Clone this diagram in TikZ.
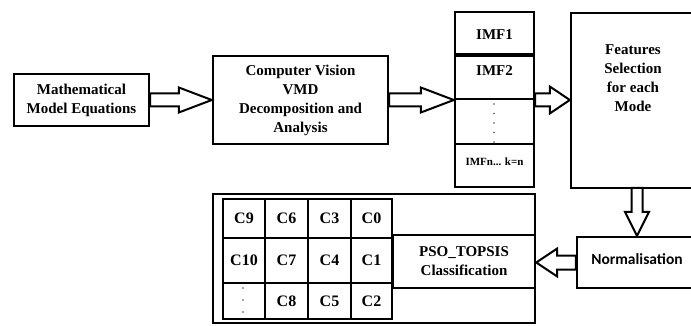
\documentclass[tikz,border=0pt]{standalone}
\usepackage{fontspec}
\setmainfont{Liberation Serif}
\newfontfamily\calfont{Carlito}
\usetikzlibrary{calc}
\tikzset{
  box/.style={draw, line width=2.4pt, inner sep=0pt, fill=white},
  lbl/.style={font=\fontsize{15}{19}\selectfont\bfseries, align=center, inner sep=0pt},
  smalllbl/.style={font=\fontsize{11}{13}\selectfont\bfseries, inner sep=0pt},
  clbl/.style={font=\fontsize{16}{19}\selectfont\bfseries, inner sep=0pt},
  sanslbl/.style={font=\fontsize{15.5}{19}\selectfont\calfont\bfseries, inner sep=0pt},
  blockarr/.style={draw, fill=white, line width=2pt, line join=miter},
  dotmark/.style={fill=black!70, draw=none},
}
\newcommand{\blockarrow}[5]{%
  \coordinate (ba-h) at ($(#2)!#5!(#1)$);
  \draw[blockarr] ($(#1)!#3!90:(#2)$) -- ($(ba-h)!#3!90:(#2)$) -- ($(ba-h)!#4!90:(#2)$)
    -- (#2) -- ($(ba-h)!#4!-90:(#2)$) -- ($(ba-h)!#3!-90:(#2)$) -- ($(#1)!#3!-90:(#2)$) -- cycle;}
\begin{document}
\begin{tikzpicture}[x=1pt,y=-1pt]
\useasboundingbox (0,0) rectangle (691,326);
% top row
\node[box, lbl, minimum width=135pt, minimum height=52pt] (math) at (81.5,100) {Mathematical\\Model Equations};
\node[box, lbl, minimum width=175pt, minimum height=88pt] (cv) at (300.5,100) {Computer Vision\\VMD\\Decomposition and\\Analysis};
% IMF column
\node[box, minimum width=79pt, minimum height=42pt] (imf1) at (494.5,33) {};
\node[box, minimum width=79pt, minimum height=43pt] (imf2) at (494.5,77.5) {};
\node[box, minimum width=79pt, minimum height=45pt] (imf3) at (494.5,121.5) {};
\node[box, minimum width=79pt, minimum height=43pt] (imf4) at (494.5,165.5) {};
\node[lbl] (t-imf1) at (494.5,35) {IMF1};
\node[lbl] (t-imf2) at (494.5,71) {IMF2};
\node[smalllbl] (t-imf4) at (494.5,162) {IMFn... k=n};
\foreach \yy in {104,113.5,123,132.5,142} \fill[dotmark] (494,\yy) circle (0.8pt);
% features
\node[box, minimum width=134pt, minimum height=175pt] (feat) at (638,100.5) {};
\node[lbl] (t-feat) at (633,78.5) {Features\\Selection\\for each\\Mode};
% normalisation
\node[box, minimum width=128pt, minimum height=51pt] (norm) at (641,262.5) {};
\node[sanslbl] (t-norm) at (637,259) {Normalisation};
% bottom outer box
\node[box, minimum width=322pt, minimum height=129pt] (outer) at (374,258.5) {};
\node[box, lbl, minimum width=142pt, minimum height=53pt] (pso) at (464,261.5) {PSO\_TOPSIS\\Classification};
% grid
\foreach \lab [count=\i] in {C9,C6,C3,C0,C10,C7,C4,C1,,C8,C5,C2} {
  \pgfmathtruncatemacro{\col}{mod(\i-1,4)}
  \pgfmathtruncatemacro{\row}{div(\i-1,4)}
  \pgfmathsetmacro{\xl}{{223,265,308,351,392}[\col]}
  \pgfmathsetmacro{\xr}{{223,265,308,351,392}[\col+1]}
  \pgfmathsetmacro{\yt}{{199,238,283,319}[\row]}
  \pgfmathsetmacro{\yb}{{199,238,283,319}[\row+1]}
  \node[box, clbl, minimum width={\xr-\xl}, minimum height={\yb-\yt}] (c-\i) at ({(\xl+\xr)/2},{(\yt+\yb)/2}) {\lab};
}
\foreach \yy in {288,300,312} \fill[dotmark] (243,\yy) circle (0.8pt);
% arrows
\blockarrow{math.east}{cv.west}{6.5pt}{12.5pt}{33pt}
\coordinate (a2tip) at (cv.east -| imf2.west);
\blockarrow{cv.east}{a2tip}{6.5pt}{12.5pt}{33pt}
\coordinate (a3tail) at (cv.east -| imf2.east);
\coordinate (a3tip) at (cv.east -| feat.west);
\blockarrow{a3tail}{a3tip}{6.5pt}{13.5pt}{20pt}
\coordinate (a4tail) at (637,188);
\coordinate (a4tip) at (a4tail |- norm.north);
\blockarrow{a4tail}{a4tip}{5.5pt}{12pt}{24pt}
\coordinate (a5tip) at (outer.east |- norm.west);
\blockarrow{norm.west}{a5tip}{7pt}{14pt}{21pt}
\end{tikzpicture}
\end{document}
